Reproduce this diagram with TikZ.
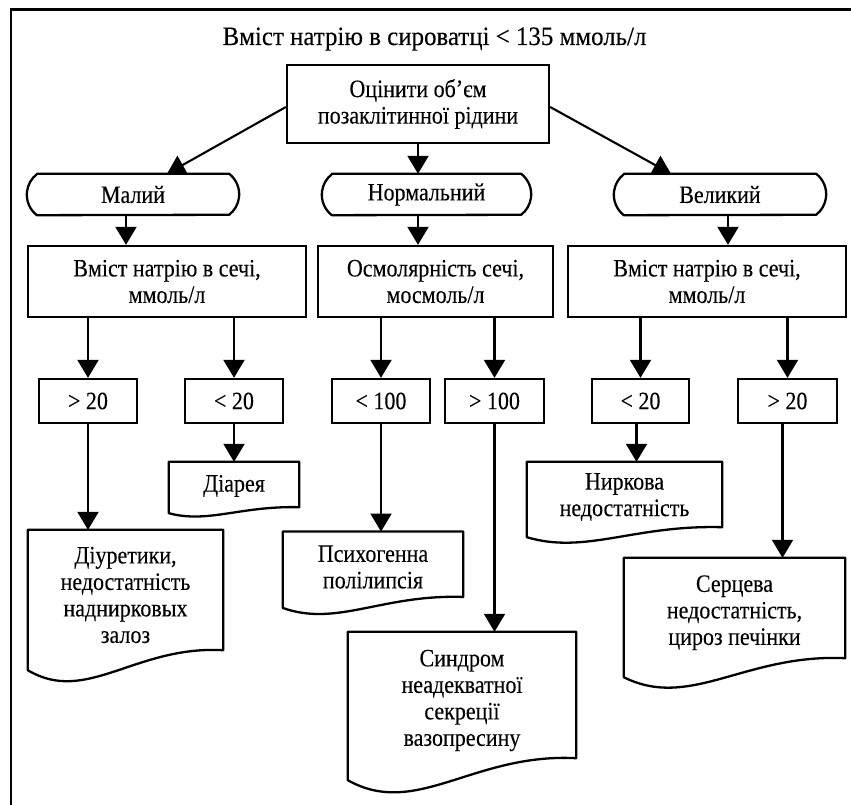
\documentclass[tikz,border=0pt]{standalone}
\usepackage{fontspec}
\setmainfont{Liberation Serif}
\newfontfamily\condfont[FakeStretch=0.88,FakeBold=0.15]{Liberation Serif}
\newfontfamily\titlefont[FakeStretch=0.94,FakeBold=0.15]{Liberation Serif}
\usetikzlibrary{arrows.meta,calc}
\newcommand\fs{\condfont\fontsize{25}{26.5}\selectfont}
\tikzset{
  shp/.style={draw, line width=2.3pt},
  boxn/.style={shp, rectangle, align=center, inner sep=0pt, font=\fs},
  plain/.style={rectangle, align=center, inner sep=0pt, font=\fs},
  arr/.style={line width=2.1pt, -{Triangle[length=18pt,width=21pt]}},
}
\newcommand\termout[1]{\draw[line width=2.3pt, line join=round] ($(#1.north west)+(10,0)$) -- ($(#1.north east)+(-10,0)$) arc[start angle=52,end angle=-52,radius=26pt] -- ($(#1.south west)+(10,0)$) arc[start angle=232,end angle=128,radius=26pt] -- cycle;}
\newcommand\docout[2]{\draw[line width=2.3pt, line join=round] (#1.north west) -- ($(#1.south west)+(0,#2)$) .. controls ($(#1.south west)!0.3!(#1.south east)+(0,{4.5*#2})$) and ($(#1.south west)!0.55!(#1.south east)+(0,{-1.5*#2})$) .. ($(#1.south east)+(0,-#2)$) -- (#1.north east) -- cycle;}
\begin{document}
\begin{tikzpicture}[x=1pt,y=-1pt]
\useasboundingbox (0,0) rectangle (851,805);
\fill[white] (0,0) rectangle (851,805);
% frame
\draw[line width=2.7pt] (11,810) -- (11,9.5) -- (856,9.5);
% title
\node[font=\titlefont\fontsize{26.5}{30}\selectfont, anchor=base, inner sep=0pt] (title) at (434.5,45) {Вміст натрію в сироватці < 135 ммоль/л};
% top box
\node[boxn, minimum width=262pt, minimum height=78pt] (top) at (418,104) {Оцінити об’єм\\позаклітинної рідини};
% terminators
\node[plain, minimum width=212pt, minimum height=41pt] (m1) at (133,194.5) {Малий};
\node[plain, minimum width=209pt, minimum height=41pt] (m2) at (426.5,194.5) {Нормальний};
\node[plain, minimum width=212pt, minimum height=41pt] (m3) at (720,194.5) {Великий};
\termout{m1}\termout{m2}\termout{m3}
% row 2
\node[boxn, minimum width=278pt, minimum height=71pt] (b1) at (167,281.5) {Вміст натрію в сечі,\\ммоль/л};
\node[boxn, minimum width=235pt, minimum height=71pt] (b2) at (435.5,281.5) {Осмолярність сечі,\\мосмоль/л};
\node[boxn, minimum width=278pt, minimum height=71pt] (b3) at (707,281.5) {Вміст натрію в сечі,\\ммоль/л};
% row 3
\node[boxn, minimum width=98pt, minimum height=44pt] (c1) at (88,401) {> 20};
\node[boxn, minimum width=98pt, minimum height=44pt] (c2) at (234,401) {< 20};
\node[boxn, minimum width=98pt, minimum height=44pt] (c3) at (381,401) {< 100};
\node[boxn, minimum width=99pt, minimum height=44pt] (c4) at (494.5,401) {> 100};
\node[boxn, minimum width=97pt, minimum height=44pt] (c5) at (640.5,401) {< 20};
\node[boxn, minimum width=99pt, minimum height=44pt] (c6) at (787.5,401) {> 20};
% documents
\node[plain, minimum width=130pt, minimum height=48pt] (dA) at (234,486) {Діарея};
\node[plain, minimum width=195pt, minimum height=70pt] (dB) at (624.5,497) {Ниркова\\недостатність};
\node[plain, minimum width=195pt, minimum height=130pt] (dC) at (125.5,595) {Діуретики,\\недостатність\\наднирковых\\залоз};
\node[plain, minimum width=180pt, minimum height=70.5pt] (dD) at (373,567) {Психогенна\\полілипсія};
\node[plain, minimum width=228pt, minimum height=137pt] (dE) at (462,700.5) {Синдром\\неадекватної\\секреції\\вазопресину};
\node[plain, minimum width=221pt, minimum height=109.5pt] (dF) at (734.5,612.75) {Серцева\\недостатність,\\цироз печінки};
\docout{dA}{3}
\docout{dB}{5}
\docout{dC}{10}
\docout{dD}{5.5}
\docout{dE}{11}
\docout{dF}{9.5}
% arrows
\draw[arr] ([yshift=-3pt]top.west) -- ([xshift=34pt]m1.north);
\draw[arr] (top.south) -- (top.south |- m2.north);
\draw[arr] ([yshift=-3pt]top.east) -- ([xshift=-49pt]m3.north);
\draw[arr] ([xshift=-7pt]m1.south) -- ([xshift=-7pt]m1.south |- b1.north);
\draw[arr] ([xshift=-8.5pt]m2.south) -- ([xshift=-8.5pt]m2.south |- b2.north);
\draw[arr] ([xshift=8pt]m3.south) -- ([xshift=8pt]m3.south |- b3.north);
\draw[arr] (c1.north |- b1.south) -- (c1.north);
\draw[arr] (c2.north |- b1.south) -- (c2.north);
\draw[arr] (c3.north |- b2.south) -- (c3.north);
\draw[arr] (c4.north |- b2.south) -- (c4.north);
\draw[arr] (c5.north |- b3.south) -- (c5.north);
\draw[arr] (c6.north |- b3.south) -- (c6.north);
\draw[arr] (c1.south) -- (c1.south |- dC.north);
\draw[arr] (c2.south) -- (c2.south |- dA.north);
\draw[arr] (c3.south) -- (c3.south |- dD.north);
\draw[arr] (c4.south) -- (c4.south |- dE.north);
\draw[arr] ([xshift=-4pt]c5.south) -- ([xshift=-4pt]c5.south |- dB.north);
\draw[arr] ([xshift=-5pt]c6.south) -- ([xshift=-5pt]c6.south |- dF.north);
\end{tikzpicture}
\end{document}
